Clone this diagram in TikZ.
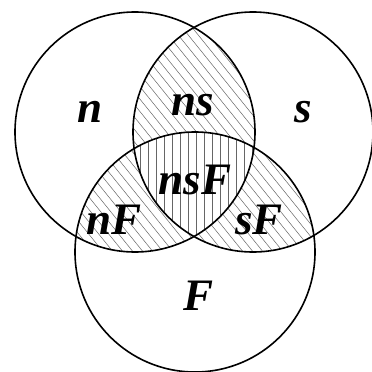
\documentclass[tikz,border=0pt]{standalone}
\usepackage{fontspec}
\setmainfont{Liberation Serif}
\begin{document}
\begin{tikzpicture}[x=1pt,y=-1pt,
  ring/.style={draw=black,line width=1.6pt},
  hatch/.style={draw=black!60,line width=0.5pt},
  lbl/.style={font=\fontsize{45}{45}\selectfont\bfseries\itshape,inner sep=0pt}]
\useasboundingbox (0,0) rectangle (372,372);
\def\R{120}
\def\circN{(135,132) circle[radius=\R]}
\def\circS{(253,132) circle[radius=\R]}
\def\circF{(195,252) circle[radius=\R]}
% diagonal hatch in pairwise intersections
\begin{scope}
  \clip \circN; \clip \circS;
  \foreach \k in {-400,-390,...,400} \draw[hatch] (\k,0) -- (\k+300,372);
\end{scope}
\begin{scope}
  \clip \circN; \clip \circF;
  \foreach \k in {-400,-390,...,400} \draw[hatch] (\k,0) -- (\k+300,372);
\end{scope}
\begin{scope}
  \clip \circS; \clip \circF;
  \foreach \k in {-400,-390,...,400} \draw[hatch] (\k,0) -- (\k+300,372);
\end{scope}
% vertical hatch in triple intersection
\begin{scope}
  \clip \circN; \clip \circS; \clip \circF;
  \fill[white] (0,0) rectangle (372,372);
  \foreach \k in {100,108,...,300} \draw[hatch] (\k,0) -- (\k,372);
\end{scope}
\draw[ring] \circN;
\draw[ring] \circS;
\draw[ring] \circF;
\node[lbl] (n) at (90,112) {n};
\node[lbl] (ns) at (193,105) {ns};
\node[lbl] (s) at (303,112) {s};
\node[lbl] (nsF) at (195,180) {nsF};
\node[lbl] (nF) at (114,220) {nF};
\node[lbl] (sF) at (259,220) {sF};
\node[lbl] (F) at (199,296) {F};
\end{tikzpicture}
\end{document}
